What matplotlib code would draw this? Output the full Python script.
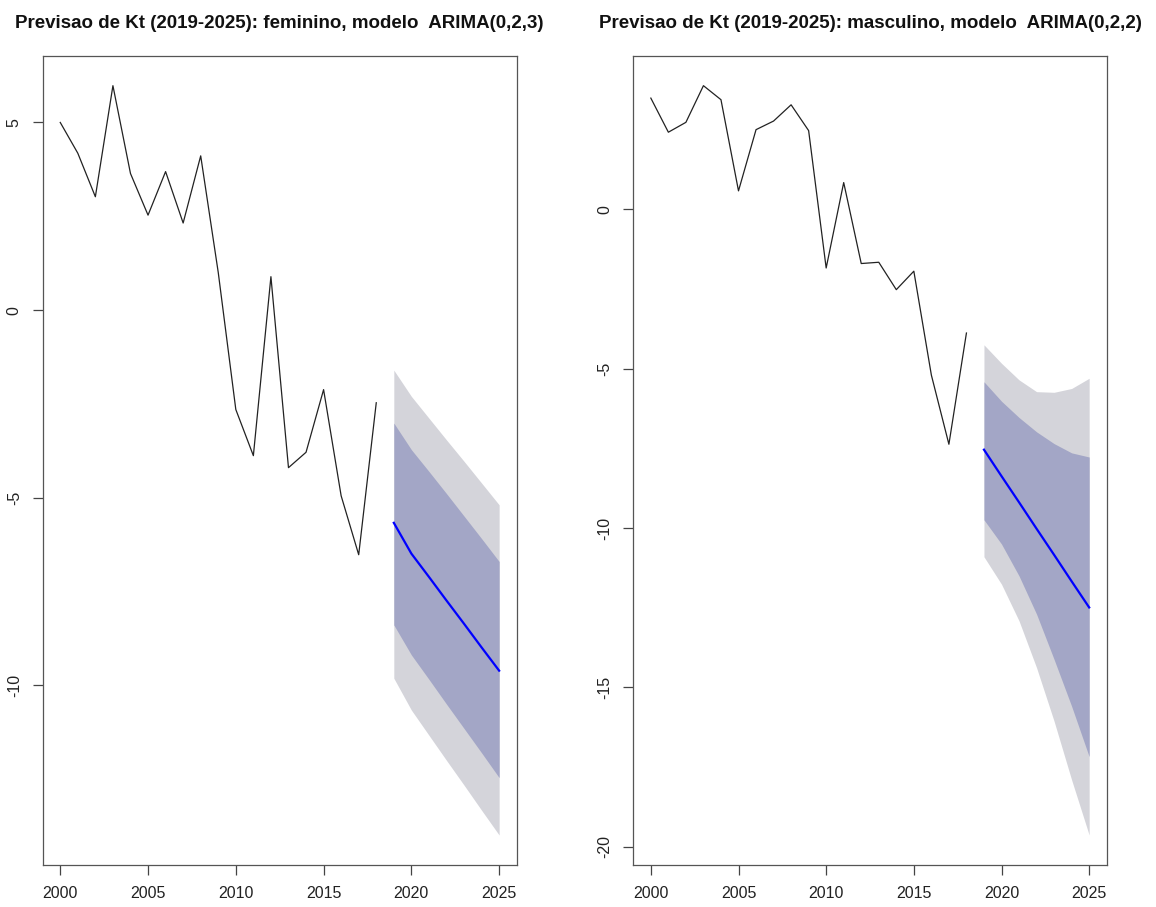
import matplotlib
matplotlib.use("Agg")
import matplotlib.pyplot as plt

plt.rcParams["font.family"] = ["Liberation Sans", "DejaVu Sans"]

# historical Kt, 2000-2018
years = list(range(2000, 2019))
kt_fem = [5.00, 4.18, 3.02, 5.98, 3.64, 2.53, 3.69, 2.32, 4.11, 1.00,
          -2.65, -3.88, 0.89, -4.20, -3.79, -2.12, -4.95, -6.52, -2.47]
kt_masc = [3.49, 2.42, 2.73, 3.88, 3.44, 0.58, 2.50, 2.77, 3.28, 2.47,
           -1.84, 0.84, -1.70, -1.66, -2.52, -1.94, -5.20, -7.37, -3.88]

# forecasts, 2019-2025
fc_years = list(range(2019, 2026))
fem_mean = [-5.67, -6.49, -7.11, -7.74, -8.36, -8.99, -9.61]
fem_lo80 = [-8.39, -9.19, -9.84, -10.50, -11.15, -11.80, -12.46]
fem_hi80 = [-3.01, -3.72, -4.30, -4.89, -5.49, -6.09, -6.70]
fem_lo95 = [-9.81, -10.66, -11.33, -12.00, -12.66, -13.33, -13.99]
fem_hi95 = [-1.60, -2.30, -2.88, -3.46, -4.03, -4.61, -5.19]

masc_mean = [-7.54, -8.37, -9.19, -10.02, -10.84, -11.67, -12.49]
masc_lo80 = [-9.74, -10.50, -11.50, -12.70, -14.12, -15.59, -17.17]
masc_hi80 = [-5.41, -6.02, -6.53, -6.98, -7.35, -7.64, -7.77]
masc_lo95 = [-10.90, -11.76, -12.91, -14.38, -16.06, -17.90, -19.63]
masc_hi95 = [-4.25, -4.83, -5.35, -5.72, -5.74, -5.62, -5.30]

x_ticks = [2000, 2005, 2010, 2015, 2020, 2025]
fem_yticks = [5, 0, -5, -10]
masc_yticks = [0, -5, -10, -15, -20]

panels = [
    ("Previsao de Kt (2019-2025): feminino, modelo  ARIMA(0,2,3)",
     kt_fem, fem_mean, fem_lo80, fem_hi80, fem_lo95, fem_hi95, fem_yticks),
    ("Previsao de Kt (2019-2025): masculino, modelo  ARIMA(0,2,2)",
     kt_masc, masc_mean, masc_lo80, masc_hi80, masc_lo95, masc_hi95, masc_yticks),
]

W, H = 1156, 907
fig = plt.figure(figsize=(W / 100, H / 100), dpi=100)
boxes = [
    [42.7 / W, (H - 865) / H, 474 / W, 809.3 / H],
    [633.3 / W, (H - 865) / H, 473.4 / W, 809.3 / H],
]

for box, (title, hist, mean, lo80, hi80, lo95, hi95, yticks) in zip(boxes, panels):
    ax = fig.add_axes(box)
    ax.fill_between(fc_years, lo95, hi95, color="#D4D4DA", lw=0)
    ax.fill_between(fc_years, lo80, hi80, color="#A3A6C6", lw=0)
    ax.plot(fc_years, mean, color="#0000FF", lw=1.6)
    ax.plot(years, hist, color="#222222", lw=0.9)
    ax.margins(x=0.04, y=0.04)

    ax.set_xticks(x_ticks)
    ax.set_yticks(yticks)
    ax.set_yticklabels([str(v) for v in yticks], rotation=90, va="center")
    ax.tick_params(direction="out", length=7, width=0.9, color="#444444",
                   labelsize=11.5, pad=8, labelcolor="#222222")
    for s in ax.spines.values():
        s.set_color("#555555")
        s.set_linewidth(0.9)
    ax.set_title(title, fontsize=13.5, fontweight="bold", pad=20, color="#111111")

fig.savefig("out.png", dpi=100)
